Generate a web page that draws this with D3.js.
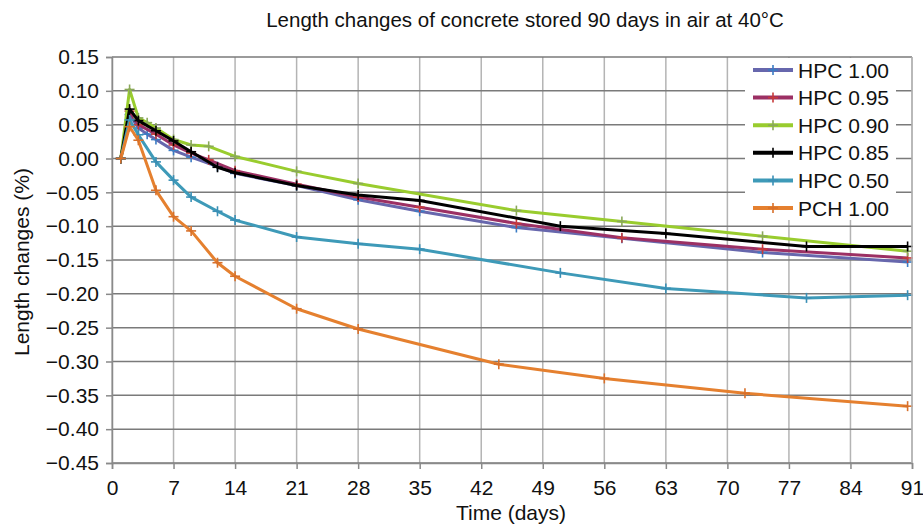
<!DOCTYPE html>
<html><head><meta charset="utf-8">
<script src="https://cdn.jsdelivr.net/npm/d3@7"></script>
<style>body{margin:0;background:#fff}svg{display:block}text{font-family:"Liberation Sans",Arial,sans-serif;fill:#111}</style>
</head><body><svg id="c" width="923" height="525"></svg>
<script>
const title = "Length changes of concrete stored 90 days in air at 40°C";
const xTicks = [0,7,14,21,28,35,42,49,56,63,70,77,84,91];
const yTicks = [0.15,0.10,0.05,0.00,-0.05,-0.10,-0.15,-0.20,-0.25,-0.30,-0.35,-0.40,-0.45];
const seriesNames = ["HPC 1.00","HPC 0.95","HPC 0.90","HPC 0.85","HPC 0.50","PCH 1.00"];
const hpc100Days = [1,2,3,4,5,7,9,12,14,21,28,35,46,58,74,90.5];
const hpc100Vals = [0,0.065,0.045,0.036,0.028,0.012,0.002,-0.012,-0.022,-0.040,-0.061,-0.078,-0.102,-0.118,-0.139,-0.153];
const hpc095Days = [1,2,3,5,7,9,11,14,21,28,35,46,58,74,90.5];
const hpc095Vals = [0,0.070,0.050,0.036,0.020,0.008,-0.002,-0.018,-0.038,-0.057,-0.072,-0.096,-0.117,-0.134,-0.147];
const hpc090Days = [1,2,3,4,5,7,9,11,14,21,28,46,58,74,90.5];
const hpc090Vals = [0,0.102,0.060,0.053,0.045,0.028,0.020,0.018,0.003,-0.019,-0.037,-0.077,-0.093,-0.115,-0.137];
const hpc085Days = [1,2,3,5,7,9,12,14,21,28,35,51,63,79,90.5];
const hpc085Vals = [0,0.073,0.056,0.041,0.026,0.010,-0.013,-0.021,-0.040,-0.054,-0.062,-0.100,-0.111,-0.130,-0.130];
const hpc050Days = [1,2,3,5,7,9,12,14,21,28,35,51,63,79,90.5];
const hpc050Vals = [0,0.057,0.035,-0.005,-0.032,-0.057,-0.078,-0.091,-0.116,-0.126,-0.134,-0.169,-0.192,-0.206,-0.202];
const pch100Days = [1,2,3,5,7,9,12,14,21,28,44,56,72,90.5];
const pch100Vals = [0,0.047,0.027,-0.047,-0.086,-0.107,-0.154,-0.174,-0.222,-0.252,-0.304,-0.325,-0.347,-0.366];
const lineColors = ["#6767ad","#9c3064","#99cc2e","#000000","#3e9ab8","#e5802f"];
const markColors = ["#3a7cc4","#c73a3a","#8aa85a","#000000","#3a8fb5","#d8702a"];

const seriesDays = [hpc100Days,hpc095Days,hpc090Days,hpc085Days,hpc050Days,pch100Days];
const seriesVals = [hpc100Vals,hpc095Vals,hpc090Vals,hpc085Vals,hpc050Vals,pch100Vals];

const svg = d3.select("#c");
const L=112,R=912,T=57,B=463;
const x = d3.scaleLinear().domain([0,91]).range([L,R]);
const y = d3.scaleLinear().domain([-0.45,0.15]).range([B,T]);

svg.append("g").selectAll("line").data(xTicks).join("line")
  .attr("x1",d=>x(d)).attr("x2",d=>x(d)).attr("y1",T).attr("y2",B)
  .attr("stroke","#b4b4b4").attr("stroke-width",1.5);
svg.append("g").selectAll("line").data(yTicks).join("line")
  .attr("x1",L).attr("x2",R).attr("y1",d=>y(d)).attr("y2",d=>y(d))
  .attr("stroke","#7a7a7a").attr("stroke-width",1.5);

const yAxis = d3.axisLeft(y).tickValues(yTicks).tickFormat(d3.format(".2f")).tickSize(6).tickPadding(7);
const gy = svg.append("g").attr("transform",`translate(${L},0)`).call(yAxis);
gy.select(".domain").attr("stroke","#8a8a8a").attr("stroke-width",1.5);
gy.selectAll(".tick line").attr("stroke","#8a8a8a").attr("stroke-width",1.5);
gy.selectAll("text").style("font-size","21px").attr("fill","#111");
const xAxis = d3.axisBottom(x).tickValues(xTicks).tickFormat(d3.format("d")).tickSize(6).tickPadding(11);
const gx = svg.append("g").attr("transform",`translate(0,${B})`).call(xAxis);
gx.select(".domain").attr("stroke","#8a8a8a").attr("stroke-width",1.5);
gx.selectAll(".tick line").attr("stroke","#8a8a8a").attr("stroke-width",1.5);
gx.selectAll("text").style("font-size","21px").attr("fill","#111");

const line = d3.line().x(d=>x(d[0])).y(d=>y(d[1]));
seriesNames.forEach((n,i)=>{
  const pts = seriesDays[i].map((d,j)=>[d,seriesVals[i][j]]);
  const g = svg.append("g");
  g.append("path").datum(pts).attr("d",line).attr("fill","none")
    .attr("stroke",lineColors[i]).attr("stroke-width",3).attr("stroke-linejoin","round");
  const m = g.selectAll("g").data(pts).join("g").attr("transform",d=>`translate(${x(d[0])},${y(d[1])})`);
  m.append("line").attr("x1",-5).attr("x2",5).attr("stroke",markColors[i]).attr("stroke-width",1.6);
  m.append("line").attr("y1",-5).attr("y2",5).attr("stroke",markColors[i]).attr("stroke-width",1.6);
});

const lg = svg.append("g");
lg.append("rect").attr("x",745).attr("y",58).attr("width",151).attr("height",162).attr("fill","#fff");
seriesNames.forEach((n,i)=>{
  const cy = 70 + i*27.6;
  lg.append("line").attr("x1",753).attr("x2",793).attr("y1",cy).attr("y2",cy)
    .attr("stroke",lineColors[i]).attr("stroke-width",4);
  lg.append("line").attr("x1",768).attr("x2",778).attr("y1",cy).attr("y2",cy).attr("stroke",markColors[i]).attr("stroke-width",1.6);
  lg.append("line").attr("x1",773).attr("x2",773).attr("y1",cy-5).attr("y2",cy+5).attr("stroke",markColors[i]).attr("stroke-width",1.6);
  lg.append("text").attr("x",798).attr("y",cy).attr("dy","0.36em").style("font-size","21px").text(n);
});
svg.append("line").attr("x1",R).attr("x2",R).attr("y1",T).attr("y2",B).attr("stroke","#b4b4b4").attr("stroke-width",1.5);

svg.append("text").attr("x",525).attr("y",27).attr("text-anchor","middle").style("font-size","20.5px").text(title);
svg.append("text").attr("x",511).attr("y",520).attr("text-anchor","middle").style("font-size","21px").text("Time (days)");
svg.append("text").attr("transform","translate(29,262) rotate(-90)").attr("text-anchor","middle").style("font-size","21px").text("Length changes (%)");
</script></body></html>
